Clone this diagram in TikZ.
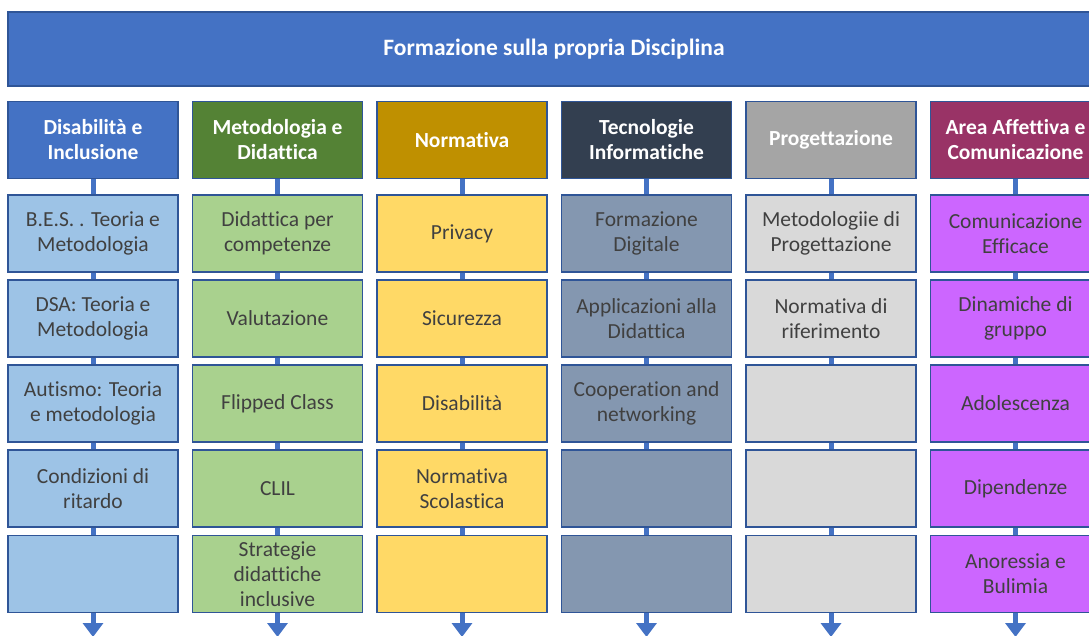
\documentclass[tikz,border=0pt]{standalone}
\usepackage{fontspec}
\setmainfont{Carlito}[Ligatures=NoCommon]
\usetikzlibrary{arrows.meta}

\definecolor{bandblue}{HTML}{4472C4}
\definecolor{edgeblue}{HTML}{2F5597}
\definecolor{headgreen}{HTML}{548235}
\definecolor{headgold}{HTML}{BF9000}
\definecolor{headnavy}{HTML}{333F50}
\definecolor{headgrey}{HTML}{A5A5A5}
\definecolor{headplum}{HTML}{993366}
\definecolor{itemblue}{HTML}{9DC3E6}
\definecolor{itemgreen}{HTML}{A9D18E}
\definecolor{itemgold}{HTML}{FFD966}
\definecolor{itemnavy}{HTML}{8497B0}
\definecolor{itemgrey}{HTML}{D9D9D9}
\definecolor{itemplum}{HTML}{CC66FF}
\definecolor{itemtext}{HTML}{404040}

\tikzset{
  banner/.style={draw=edgeblue, line width=1.2pt, fill=bandblue,
    minimum width=1092pt, minimum height=74pt, text=white,
    font=\bfseries\fontsize{23.5}{25}\selectfont},
  headbox/.style={draw=edgeblue, line width=1.5pt, fill=#1,
    minimum width=170pt, minimum height=77pt, text=white, align=center,
    font=\bfseries\fontsize{21.5}{25}\selectfont},
  itembox/.style={draw=edgeblue, line width=1.5pt, fill=#1,
    minimum width=170pt, minimum height=77pt, text=itemtext, align=center,
    font=\fontsize{21.5}{25}\selectfont},
  link/.style={draw=bandblue, line width=5pt},
}

\begin{document}
\begin{tikzpicture}[x=1pt, y=-1pt]
  \useasboundingbox (0,0) rectangle (1089,635);
  \clip (0,0) rectangle (1089,635);

  % connectors first, boxes on top
  \coordinate (disend) at (93,637);
  \coordinate (metend) at (277.5,637);
  \coordinate (norend) at (462,637);
  \coordinate (tecend) at (646.5,637);
  \coordinate (proend) at (831,637);
  \coordinate (affend) at (1015.5,637);

  \node[banner] (top) at (554,49) {Formazione sulla propria Disciplina};

  % headers
  \node[headbox=bandblue]  (dis) at (93,140)    {Disabilità e\\Inclusione};
  \node[headbox=headgreen] (met) at (277.5,140) {Metodologia e\\Didattica};
  \node[headbox=headgold]  (nor) at (462,140)   {Normativa};
  \node[headbox=headnavy]  (tec) at (646.5,140) {Tecnologie\\Informatiche};
  \node[headbox=headgrey]  (pro) at (831,140)   {Progettazione};
  \node[headbox=headplum]  (aff) at (1015.5,140) {Area Affettiva e\\Comunicazione};

  % Disabilita e Inclusione
  \node[itembox=itemblue] (dis1) at (93,233.5) {B.E.S. . Teoria e\\Metodologia};
  \node[itembox=itemblue] (dis2) at (93,318.5) {DSA: Teoria e\\Metodologia};
  \node[itembox=itemblue] (dis3) at (93,403.5) {Autismo: Teoria\\e metodologia};
  \node[itembox=itemblue] (dis4) at (93,488.5) {Condizioni di\\ritardo};
  \node[itembox=itemblue] (dis5) at (93,574)   {};

  % Metodologia e Didattica
  \node[itembox=itemgreen] (met1) at (277.5,233.5) {Didattica per\\competenze};
  \node[itembox=itemgreen] (met2) at (277.5,318.5) {Valutazione};
  \node[itembox=itemgreen] (met3) at (277.5,403.5) {Flipped Class};
  \node[itembox=itemgreen] (met4) at (277.5,488.5) {CLIL};
  \node[itembox=itemgreen] (met5) at (277.5,574)   {Strategie\\didattiche\\inclusive};

  % Normativa
  \node[itembox=itemgold] (nor1) at (462,233.5) {Privacy};
  \node[itembox=itemgold] (nor2) at (462,318.5) {Sicurezza};
  \node[itembox=itemgold] (nor3) at (462,403.5) {Disabilità};
  \node[itembox=itemgold] (nor4) at (462,488.5) {Normativa\\Scolastica};
  \node[itembox=itemgold] (nor5) at (462,574)   {};

  % Tecnologie Informatiche
  \node[itembox=itemnavy] (tec1) at (646.5,233.5) {Formazione\\Digitale};
  \node[itembox=itemnavy] (tec2) at (646.5,318.5) {Applicazioni alla\\Didattica};
  \node[itembox=itemnavy] (tec3) at (646.5,403.5) {Cooperation and\\networking};
  \node[itembox=itemnavy] (tec4) at (646.5,488.5) {};
  \node[itembox=itemnavy] (tec5) at (646.5,574)   {};

  % Progettazione
  \node[itembox=itemgrey] (pro1) at (831,233.5) {Metodologiie di\\Progettazione};
  \node[itembox=itemgrey] (pro2) at (831,318.5) {Normativa di\\riferimento};
  \node[itembox=itemgrey] (pro3) at (831,403.5) {};
  \node[itembox=itemgrey] (pro4) at (831,488.5) {};
  \node[itembox=itemgrey] (pro5) at (831,574)   {};

  % Area Affettiva e Comunicazione
  \node[itembox=itemplum] (aff1) at (1015.5,233.5) {Comunicazione\\Efficace};
  \node[itembox=itemplum] (aff2) at (1015.5,318.5) {Dinamiche di\\gruppo};
  \node[itembox=itemplum] (aff3) at (1015.5,403.5) {Adolescenza};
  \node[itembox=itemplum] (aff4) at (1015.5,488.5) {Dipendenze};
  \node[itembox=itemplum] (aff5) at (1015.5,574)   {Anoressia e\\Bulimia};

  \draw[link]
    (dis) -- (dis1) (dis1) -- (dis2) (dis2) -- (dis3) (dis3) -- (dis4) (dis4) -- (dis5)
    (met) -- (met1) (met1) -- (met2) (met2) -- (met3) (met3) -- (met4) (met4) -- (met5)
    (nor) -- (nor1) (nor1) -- (nor2) (nor2) -- (nor3) (nor3) -- (nor4) (nor4) -- (nor5)
    (tec) -- (tec1) (tec1) -- (tec2) (tec2) -- (tec3) (tec3) -- (tec4) (tec4) -- (tec5)
    (pro) -- (pro1) (pro1) -- (pro2) (pro2) -- (pro3) (pro3) -- (pro4) (pro4) -- (pro5)
    (aff) -- (aff1) (aff1) -- (aff2) (aff2) -- (aff3) (aff3) -- (aff4) (aff4) -- (aff5)
  ;
  \draw[link, -{Triangle[width=20pt,length=14pt]}] (dis5) -- (disend);
  \draw[link, -{Triangle[width=20pt,length=14pt]}] (met5) -- (metend);
  \draw[link, -{Triangle[width=20pt,length=14pt]}] (nor5) -- (norend);
  \draw[link, -{Triangle[width=20pt,length=14pt]}] (tec5) -- (tecend);
  \draw[link, -{Triangle[width=20pt,length=14pt]}] (pro5) -- (proend);
  \draw[link, -{Triangle[width=20pt,length=14pt]}] (aff5) -- (affend);
\end{tikzpicture}
\end{document}
